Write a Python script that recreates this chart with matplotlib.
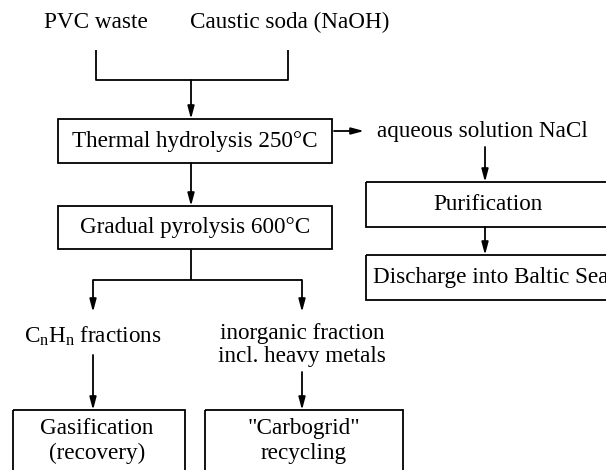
import matplotlib
matplotlib.use("Agg")
import matplotlib.pyplot as plt
from matplotlib.patches import Rectangle

plt.rcParams['font.family'] = ['Liberation Serif', 'DejaVu Serif']
plt.rcParams['mathtext.fontset'] = 'custom'
plt.rcParams['mathtext.rm'] = 'Liberation Serif'

# node texts
inputs = ["PVC waste", "Caustic soda (NaOH)"]
main_steps = ["Thermal hydrolysis 250°C", "Gradual pyrolysis 600°C"]
side_label = "aqueous solution NaCl"
side_steps = ["Purification", "Discharge into Baltic Sea"]
fractions = [r"$\mathregular{C_nH_n}$ fractions", "inorganic fraction\nincl. heavy metals"]
end_steps = ["Gasification\n(recovery)", "\"Carbogrid\"\nrecycling"]

fs = 16.7
lw = 1.3

fig = plt.figure(figsize=(6.06, 4.70), dpi=100)
ax = fig.add_axes([0, 0, 1, 1])
ax.set_xlim(0, 606)
ax.set_ylim(470, 0)
ax.axis("off")

def line(xs, ys):
    ax.plot(xs, ys, color="black", lw=lw, solid_capstyle="butt")

def arrow(x0, y0, x1, y1):
    ax.annotate("", xy=(x1, y1), xytext=(x0, y0),
                arrowprops=dict(arrowstyle="-|>,head_length=0.75,head_width=0.2",
                                color="black", lw=lw, shrinkA=0, shrinkB=0))

def box(x0, y0, x1, y1):
    ax.add_patch(Rectangle((x0, y0), x1 - x0, y1 - y0, fill=False,
                           edgecolor="black", lw=lw, clip_on=False))

# inputs
ax.text(96, 22, inputs[0], fontsize=fs, ha="center", va="center")
ax.text(290, 22, inputs[1], fontsize=fs, ha="center", va="center")
line([96, 96, 288, 288], [50, 80, 80, 50])
arrow(191, 80, 191, 119)

# main column
box(58, 119, 332, 163)
ax.text(195, 141, main_steps[0], fontsize=fs, ha="center", va="center")
arrow(191, 163, 191, 206)
box(58, 206, 332, 249)
ax.text(195, 228, main_steps[1], fontsize=fs, ha="center", va="center")

# side branch
arrow(334, 131, 364, 131)
ax.text(377, 131, side_label, fontsize=fs, ha="left", va="center")
arrow(485, 147, 485, 182)
box(366, 182, 620, 227)
ax.text(488, 204, side_steps[0], fontsize=fs, ha="center", va="center")
arrow(485, 227, 485, 255)
box(366, 255, 620, 300)
ax.text(373, 277, side_steps[1], fontsize=fs, ha="left", va="center")

# split after pyrolysis
line([191, 191], [249, 280])
line([93, 302], [280, 280])
arrow(93, 280, 93, 312)
arrow(302, 280, 302, 312)

ax.text(93, 336, fractions[0], fontsize=fs, ha="center", va="center")
ax.text(302, 345, fractions[1], fontsize=fs, ha="center", va="center",
        linespacing=1.15)

arrow(93, 355, 93, 410)
arrow(302, 372, 302, 410)

# end boxes
box(13, 410, 185, 490)
ax.text(97, 441, end_steps[0], fontsize=fs, ha="center", va="center",
        linespacing=1.2)
box(205, 410, 403, 490)
ax.text(304, 441, end_steps[1], fontsize=fs, ha="center", va="center",
        linespacing=1.2)

fig.savefig("out.png", dpi=100)
